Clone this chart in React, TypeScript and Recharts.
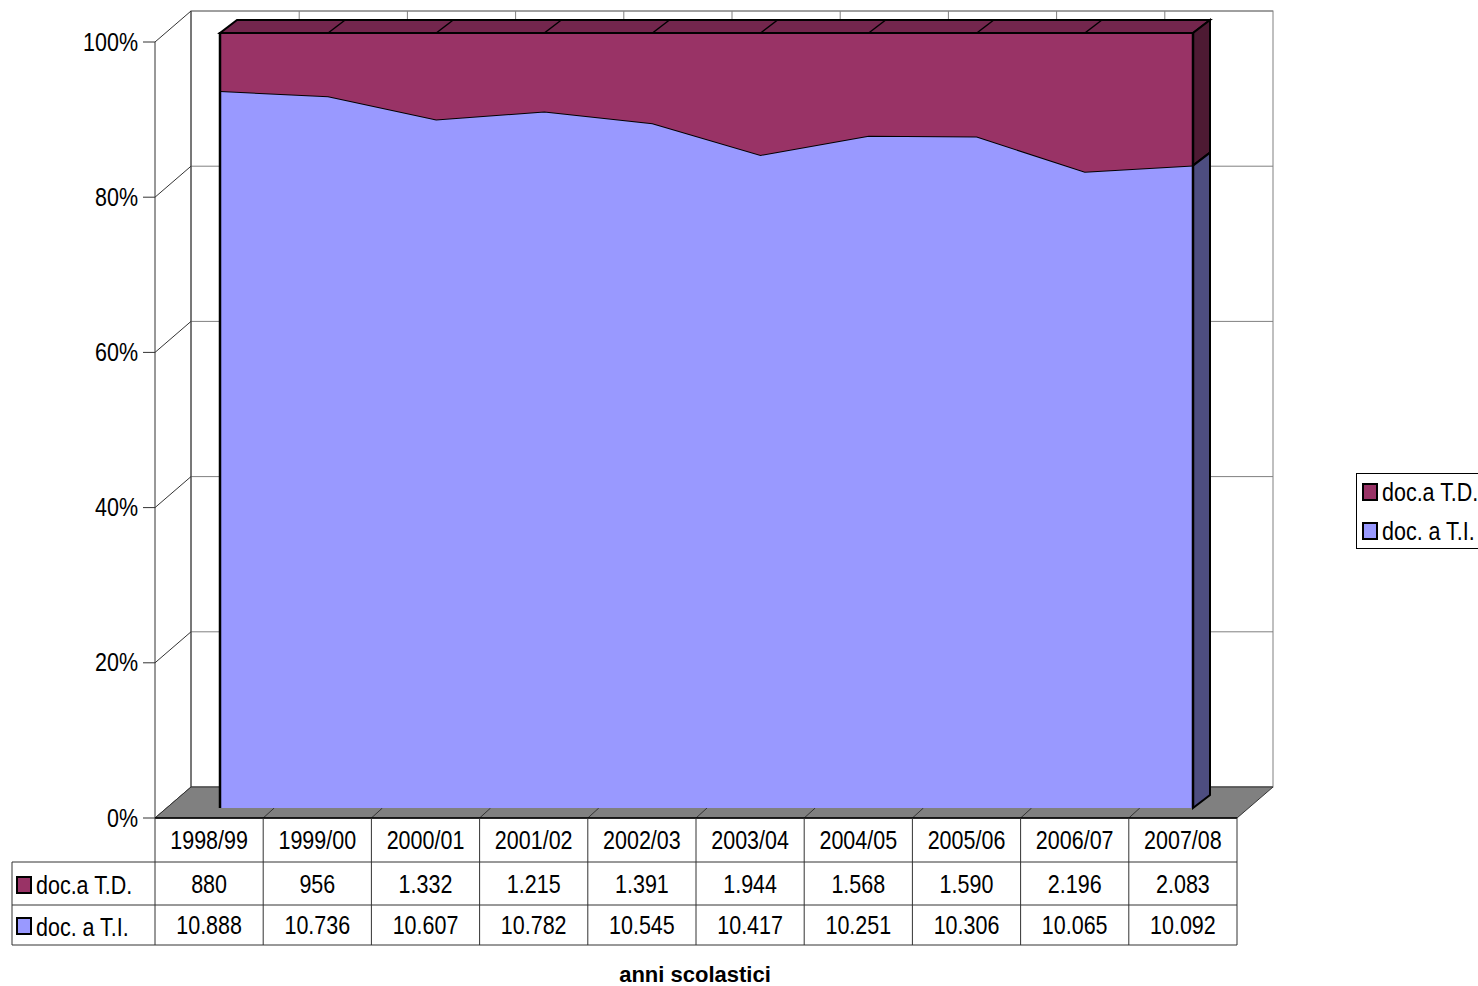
import { AreaChart, Area, XAxis, YAxis } from "recharts"

const years = ["1998/99", "1999/00", "2000/01", "2001/02", "2002/03", "2003/04", "2004/05", "2005/06", "2006/07", "2007/08"]
const docTD = [880, 956, 1332, 1215, 1391, 1944, 1568, 1590, 2196, 2083]
const docTI = [10888, 10736, 10607, 10782, 10545, 10417, 10251, 10306, 10065, 10092]
const yTicks = ["0%", "20%", "40%", "60%", "80%", "100%"]

const chartData = years.map((year, i) => ({ year, ti: docTI[i], td: docTD[i] }))

// geometry of the fake 3d box
const W = 1478
const H = 986
const FONT = "'Liberation Sans', Arial, sans-serif"
const FX0 = 155
const FX1 = 1237
const FY0 = 818
const FY100 = 42
const WDX = 36
const WDY = -31
const AX0 = 220
const AX1 = 1193
const AY0 = 808
const AY100 = 33
const ADX = 17
const ADY = -13
const TD_COLOR = "#993366"
const TI_COLOR = "#9999FF"

const yFront = (p: number) => FY0 - p * (FY0 - FY100)
const yArea = (p: number) => AY0 - p * (AY0 - AY100)
const fmt = (n: number) => String(n).replace(/\B(?=(\d{3})+(?!\d))/g, ".")

// narrow-ish text, the original uses Arial Narrow
function T({ x, y, children, anchor = "start" }: { x: number; y: number; children: any; anchor?: string }) {
  return (
    <text
      transform={`translate(${x},${y}) scale(0.86,1)`}
      fontSize={25}
      fontFamily={FONT}
      textAnchor={anchor}
      dominantBaseline="central"
    >
      {children}
    </text>
  )
}

function Frame() {
  const colW = (FX1 - FX0) / years.length
  const last = years.length - 1
  const lastFrac = docTI[last] / (docTI[last] + docTD[last])
  const yB = yArea(lastFrac)
  const catX = (i: number) => AX0 + (i * (AX1 - AX0)) / last

  return (
    <svg width={W} height={H} style={{ position: "absolute", left: 0, top: 0 }}>
      {/* back wall */}
      <rect x={FX0 + WDX} y={FY100 + WDY} width={FX1 - FX0} height={FY0 - FY100} fill="#fff" stroke="#808080" />
      {yTicks.map((t, i) => {
        const y = yFront(i / 5)
        return (
          <g key={t}>
            <line x1={FX0} y1={y} x2={FX0 + WDX} y2={y + WDY} stroke="#333" />
            <line x1={FX0 + WDX} y1={y + WDY} x2={FX1 + WDX} y2={y + WDY} stroke="#808080" />
            <line x1={FX0 - 12} y1={y} x2={FX0} y2={y} stroke="#333" />
            <T x={138} y={y} anchor="end">{t}</T>
          </g>
        )
      })}
      {years.slice(1).map((_, i) => {
        const x = FX0 + WDX + (i + 1) * colW
        return <line key={i} x1={x} y1={FY100 + WDY} x2={x} y2={FY0 + WDY} stroke="#808080" />
      })}
      <line x1={FX0 + WDX} y1={FY100 + WDY} x2={FX0 + WDX} y2={FY0 + WDY} stroke="#333" />
      <line x1={FX0} y1={FY100} x2={FX0} y2={FY0} stroke="#333" />
      {/* floor */}
      <polygon
        points={`${FX0},${FY0} ${FX1},${FY0} ${FX1 + WDX},${FY0 + WDY} ${FX0 + WDX},${FY0 + WDY}`}
        fill="#808080"
        stroke="#333"
      />
      {years.slice(1).map((_, i) => {
        const x = FX0 + (i + 1) * colW
        return <line key={i} x1={x} y1={FY0} x2={x + 11} y2={FY0 - 10} stroke="#333" />
      })}
      <line x1={FX0} y1={FY0} x2={FX1} y2={FY0} stroke="#000" strokeWidth={1.5} />
      {/* area top face and right faces */}
      <polygon
        points={`${AX0},${AY100} ${AX1},${AY100} ${AX1 + ADX},${AY100 + ADY} ${AX0 + ADX},${AY100 + ADY}`}
        fill="#73264D"
        stroke="#000"
        strokeWidth={2}
      />
      {years.slice(1, last).map((_, i) => {
        const x = catX(i + 1)
        return <line key={i} x1={x} y1={AY100} x2={x + ADX} y2={AY100 + ADY} stroke="#000" strokeWidth={1.5} />
      })}
      <polygon
        points={`${AX1},${AY100} ${AX1 + ADX},${AY100 + ADY} ${AX1 + ADX},${yB + ADY} ${AX1},${yB}`}
        fill="#4D1A33"
        stroke="#000"
        strokeWidth={2}
      />
      <polygon
        points={`${AX1},${yB} ${AX1 + ADX},${yB + ADY} ${AX1 + ADX},${AY0 + ADY} ${AX1},${AY0}`}
        fill="#4D4D80"
        stroke="#000"
        strokeWidth={2}
      />
      {/* data table */}
      {[862, 905, 945].map((y) => (
        <line key={y} x1={12} y1={y} x2={FX1} y2={y} stroke="#333" />
      ))}
      <line x1={12} y1={862} x2={12} y2={945} stroke="#333" />
      {years.map((_, i) => (
        <line key={i} x1={FX0 + (i + 1) * colW} y1={FY0} x2={FX0 + (i + 1) * colW} y2={945} stroke="#333" />
      ))}
      <line x1={FX0} y1={FY0} x2={FX0} y2={945} stroke="#333" />
      {years.map((yr, i) => {
        const cx = FX0 + (i + 0.5) * colW
        return (
          <g key={yr}>
            <T x={cx} y={840} anchor="middle">{yr}</T>
            <T x={cx} y={884} anchor="middle">{fmt(docTD[i])}</T>
            <T x={cx} y={925} anchor="middle">{fmt(docTI[i])}</T>
          </g>
        )
      })}
      <rect x={17} y={877} width={14} height={16} fill={TD_COLOR} stroke="#000" strokeWidth={2} />
      <T x={36} y={885}>doc.a T.D.</T>
      <rect x={17} y={918} width={14} height={16} fill={TI_COLOR} stroke="#000" strokeWidth={2} />
      <T x={36} y={927}>doc. a T.I.</T>
      <text x={695} y={974} fontSize={22} fontWeight="bold" fontFamily={FONT} textAnchor="middle" dominantBaseline="central">
        anni scolastici
      </text>
      {/* legend, cut by the right edge as in the original */}
      <rect x={1356.5} y={473.5} width={140} height={75} fill="#fff" stroke="#000" />
      <rect x={1363} y={484} width={14} height={16} fill={TD_COLOR} stroke="#000" strokeWidth={2} />
      <T x={1382} y={492}>doc.a T.D.</T>
      <rect x={1363} y={523} width={14} height={16} fill={TI_COLOR} stroke="#000" strokeWidth={2} />
      <T x={1382} y={531}>doc. a T.I.</T>
    </svg>
  )
}

function Edges() {
  return (
    <svg width={W} height={H} style={{ position: "absolute", left: 0, top: 0, pointerEvents: "none" }}>
      <line x1={AX0} y1={AY100 - 1} x2={AX0} y2={AY0} stroke="#000" strokeWidth={2.5} />
      <line x1={AX1} y1={AY100 - 1} x2={AX1} y2={AY0} stroke="#000" strokeWidth={2.5} />
    </svg>
  )
}

export default function App() {
  return (
    <div style={{ position: "relative", width: W, height: H, overflow: "hidden", background: "#fff" }}>
      <style>{`body{margin:0}`}</style>
      <Frame />
      <div style={{ position: "absolute", left: 0, top: 0 }}>
        <AreaChart
          width={W}
          height={H}
          data={chartData}
          stackOffset="expand"
          margin={{ top: AY100, bottom: H - AY0, left: AX0, right: W - AX1 }}
        >
          <XAxis dataKey="year" hide padding={{ left: 0, right: 0 }} />
          <YAxis hide domain={[0, 1]} />
          <Area
            type="linear"
            dataKey="ti"
            stackId="1"
            fill={TI_COLOR}
            fillOpacity={1}
            stroke="#000"
            strokeWidth={2}
            isAnimationActive={false}
          />
          <Area
            type="linear"
            dataKey="td"
            stackId="1"
            fill={TD_COLOR}
            fillOpacity={1}
            stroke="#000"
            strokeWidth={2}
            isAnimationActive={false}
          />
        </AreaChart>
      </div>
      <Edges />
    </div>
  )
}
